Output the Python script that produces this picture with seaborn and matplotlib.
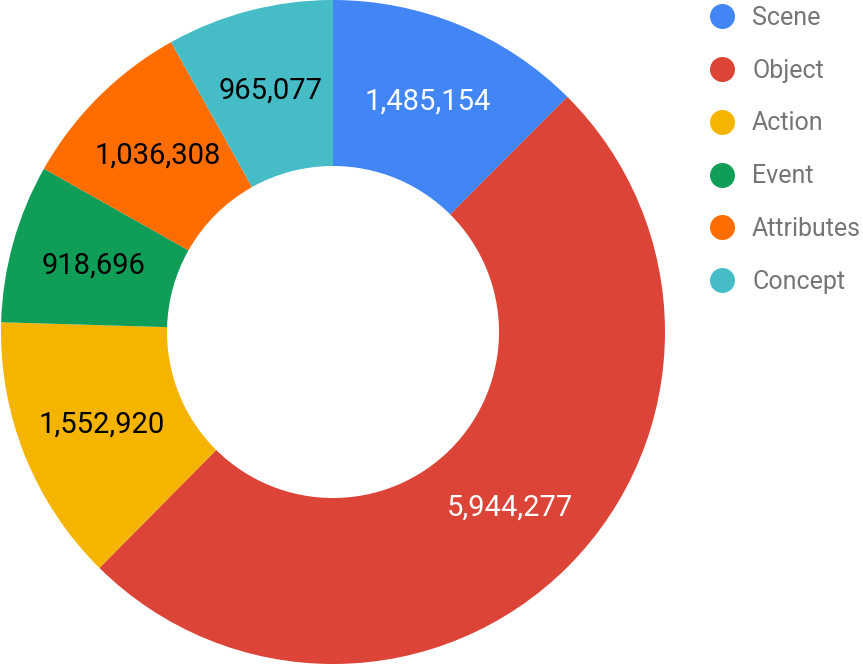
import matplotlib
matplotlib.use("Agg")
import matplotlib.pyplot as plt
from matplotlib.lines import Line2D
import seaborn as sns

categories = ["Scene", "Object", "Action", "Event", "Attributes", "Concept"]
counts = [1485154, 5944277, 1552920, 918696, 1036308, 965077]
colors = ["#4285F4", "#DB4437", "#F4B400", "#0F9D58", "#FF6D00", "#46BDC6"]
label_colors = ["white", "white", "black", "black", "black", "black"]

sns.set_style("white")
plt.rcParams["font.family"] = ["Roboto", "DejaVu Sans"]

fig = plt.figure(figsize=(8.63, 6.65), dpi=100)
ax = fig.add_axes([1 / 863, 1 / 665, 664 / 863, 664 / 665])

wedges, texts = ax.pie(
    counts,
    colors=colors,
    startangle=90,
    counterclock=False,
    radius=1.0,
    wedgeprops=dict(width=0.5, linewidth=0),
    labels=[f"{c:,}" for c in counts],
    labeldistance=0.75,
    textprops=dict(fontsize=21),
)
for t, c in zip(texts, label_colors):
    t.set_color(c)
    t.set_horizontalalignment("center")
    t.set_verticalalignment("center")
ax.set_xlim(-1, 1)
ax.set_ylim(-1, 1)
ax.set_aspect("equal")

handles = [Line2D([], [], marker="o", linestyle="", markersize=18,
                  markerfacecolor=col, markeredgewidth=0) for col in colors]
leg = fig.legend(handles, categories, loc="upper left",
                 bbox_to_anchor=(697 / 863, 1.0 + 4 / 665), frameon=False,
                 fontsize=18, labelspacing=1.15, handletextpad=0.6,
                 handlelength=1.2, borderaxespad=0)
for t in leg.get_texts():
    t.set_color("#757575")

fig.savefig("out.png", dpi=100)
